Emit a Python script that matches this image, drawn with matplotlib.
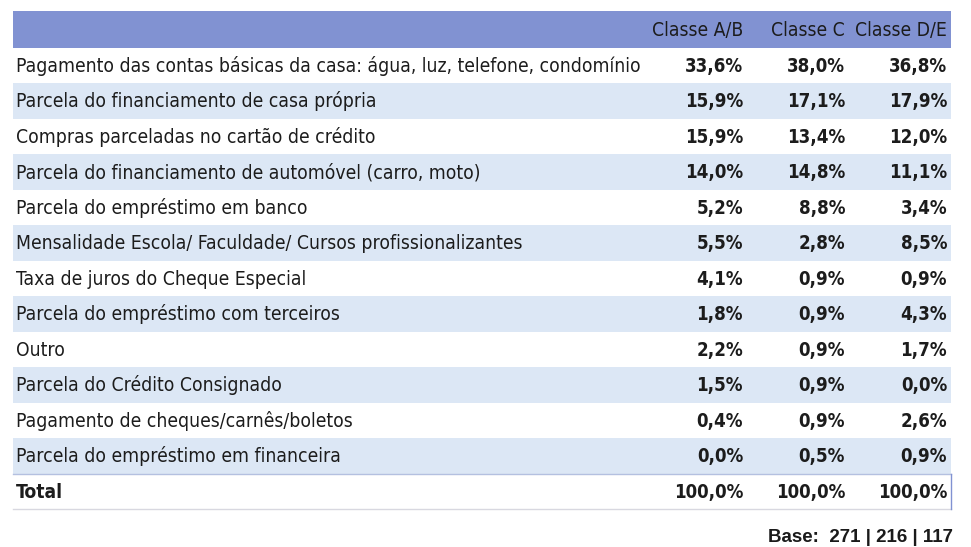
import matplotlib
matplotlib.use("Agg")
from matplotlib import pyplot as plt
from matplotlib.patches import Rectangle

columns = ["Classe A/B", "Classe C", "Classe D/E"]
labels = [
    "Pagamento das contas básicas da casa: água, luz, telefone, condomínio",
    "Parcela do financiamento de casa própria",
    "Compras parceladas no cartão de crédito",
    "Parcela do financiamento de automóvel (carro, moto)",
    "Parcela do empréstimo em banco",
    "Mensalidade Escola/ Faculdade/ Cursos profissionalizantes",
    "Taxa de juros do Cheque Especial",
    "Parcela do empréstimo com terceiros",
    "Outro",
    "Parcela do Crédito Consignado",
    "Pagamento de cheques/carnês/boletos",
    "Parcela do empréstimo em financeira",
]
classe_ab = [33.6, 15.9, 15.9, 14.0, 5.2, 5.5, 4.1, 1.8, 2.2, 1.5, 0.4, 0.0]
classe_c = [38.0, 17.1, 13.4, 14.8, 8.8, 2.8, 0.9, 0.9, 0.9, 0.9, 0.9, 0.5]
classe_de = [36.8, 17.9, 12.0, 11.1, 3.4, 8.5, 0.9, 4.3, 1.7, 0.0, 2.6, 0.9]
totals = [100.0, 100.0, 100.0]
bases = [271, 216, 117]

def pct(v):
    return f"{v:.1f}%".replace(".", ",")

fam = ["DejaVu Sans"]
txt_color = "#1c1c1c"
fs_lab, fs_num = 13.9, 13.4

fig = plt.figure(figsize=(9.71, 5.47), dpi=100)
ax = fig.add_axes([0, 0, 1, 1])
ax.set_xlim(0, 971)
ax.set_ylim(547, 0)
ax.axis("off")

left, right = 13, 951
top, head_h, row_h = 11, 36.5, 35.5
col_x = [743, 845, 947]

# header
ax.add_patch(Rectangle((left, top), right - left, head_h, color="#8192d2", lw=0))
for x, c in zip(col_x, columns):
    ax.text(x, top + head_h / 2 + 6.5, c, ha="right", va="baseline", fontsize=fs_lab,
            family=fam, stretch="condensed", color=txt_color)

y0 = top + head_h
values = list(zip(classe_ab, classe_c, classe_de))
for i, (lab, vals) in enumerate(zip(labels, values)):
    y = y0 + i * row_h
    if i % 2 == 1:
        ax.add_patch(Rectangle((left, y), right - left, row_h, color="#dce7f5", lw=0))
    yb = y + row_h / 2 + 6.5
    ax.text(16, yb, lab, ha="left", va="baseline", fontsize=fs_lab, family=fam,
            stretch="condensed", color=txt_color)
    for x, v in zip(col_x, vals):
        ax.text(x, yb, pct(v), ha="right", va="baseline", fontsize=fs_num, family=fam,
                stretch="condensed", weight="bold", color=txt_color)

# total row
y = y0 + len(labels) * row_h
ax.plot([left, right], [y, y], color="#b4c0e0", lw=1)
ax.plot([left, right], [y + row_h, y + row_h], color="#d8d8e0", lw=1)
ax.plot([right, right], [y, y + row_h], color="#8192d2", lw=1)
yb = y + row_h / 2 + 6.5
ax.text(16, yb, "Total", ha="left", va="baseline", fontsize=fs_lab, family=fam,
        stretch="condensed", weight="bold", color=txt_color)
for x, v in zip(col_x, totals):
    ax.text(x, yb, pct(v), ha="right", va="baseline", fontsize=fs_num, family=fam,
            stretch="condensed", weight="bold", color=txt_color)

ax.text(953, 537, "Base:  " + " | ".join(str(b) for b in bases), ha="right",
        va="center", fontsize=13.5, family=["Liberation Sans"], weight="bold",
        color="#1a1a1a")

fig.savefig("out.png", dpi=100)
